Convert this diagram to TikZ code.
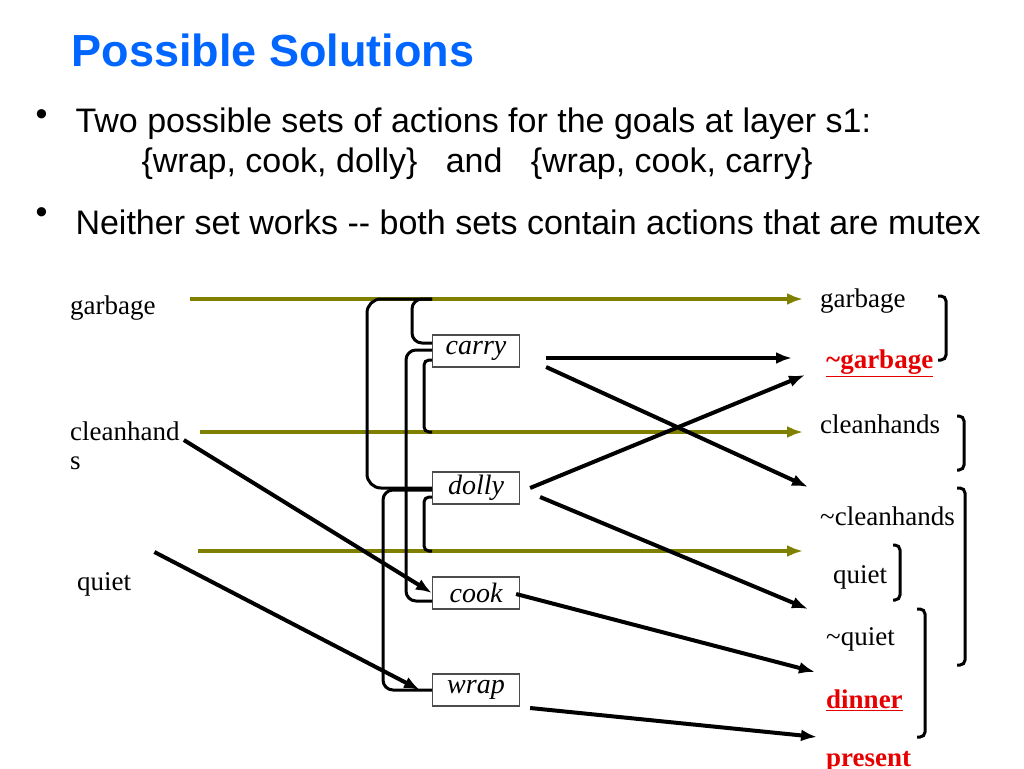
\documentclass[tikz,border=0pt]{standalone}
\usepackage{fontspec}
\setmainfont{Liberation Serif}
\newfontfamily\sansfont{Liberation Sans}
\usetikzlibrary{arrows.meta}
\usetikzlibrary{positioning}
\definecolor{titleblue}{RGB}{0,102,255}
\definecolor{lineolive}{RGB}{128,128,0}
\definecolor{goalred}{RGB}{230,0,0}
\begin{document}
\begin{tikzpicture}
      [x=1pt,y=-1pt,
       fact/.style={anchor=west,inner sep=0pt,font=\fontsize{27}{29}\selectfont},
       goal/.style={fact,text=goalred,font=\fontsize{27}{29}\selectfont\bfseries},
       act/.style={rectangle,draw=black!70,line width=1.2pt,minimum width=87pt,minimum height=32pt,inner sep=0pt,font=\fontsize{28}{30}\selectfont\itshape},
       bullet/.style={anchor=west,font=\sansfont\fontsize{34}{36}\selectfont},
       persist/.style={-{Latex[length=16pt,width=12pt]},line width=4.5pt,lineolive},
       effect/.style={-{Latex[length=16pt,width=12pt]},line width=4pt},
       mutex/.style={line width=3pt,rounded corners=14pt},
       pair/.style={line width=3pt,rounded corners=5pt}]
      \useasboundingbox (0,0) rectangle (1024,768);
      % title and bullets
      \node[anchor=west,text=titleblue,font=\sansfont\fontsize{45}{47}\selectfont\bfseries] (title) at (68,50) {Possible Solutions};
      \node[bullet] (dotA) at (32,118) {•};
      \node[bullet] (textA) at (72,124) {Two possible sets of actions for the goals at layer s1:};
      \node[bullet] (textB) at (138,164) {\{wrap, cook, dolly\}\ \ \ and\ \ \ \{wrap, cook, carry\}};
      \node[bullet] (dotB) at (32,216) {•};
      \node[bullet] (textC) at (72,222) {Neither set works -- both sets contain actions that are mutex};
      % layer s0
      \node[fact] (garbage0) at (70,308) {garbage};
      \node[fact,align=left] (clean0) at (70,446) {cleanhand\\s};
      \node[fact] (quiet0) at (77,584) {quiet};
      % actions
      \node[act] (carry) at (476,351) {carry};
      \node[act] (dolly) at (476,488) {dolly};
      \node[act] (cook) at (476,593) {cook};
      \node[act] (wrap) at (476,690) {wrap};
      % layer s1
      \node[fact] (garbage1) at (820,301) {garbage};
      \node[goal] (ngarbage1) at (826,363) {\underline{\textasciitilde garbage}};
      \node[fact] (clean1) at (820,424) {cleanhands};
      \node[fact] (nclean1) at (820,516) {\textasciitilde cleanhands};
      \node[fact] (quiet1) at (833,577) {quiet};
      \node[fact] (nquiet1) at (826,639) {\textasciitilde quiet};
      \node[goal] (dinner1) at (826,700) {\underline{dinner}};
      \node[goal] (present1) at (826,762) {present};
      % no-op lines
      \coordinate (g0) at (190,299);
      \coordinate (g1) at (803,299);
      \coordinate (c0) at (200,432);
      \coordinate (c1) at (803,432);
      \coordinate (q0) at (198,551);
      \coordinate (q1) at (803,551);
      \draw[persist] (g0) -- (g1);
      \draw[persist] (c0) -- (c1);
      \draw[persist] (q0) -- (q1);
      % add edges
      \draw[effect] (carry.east) ++(26,7) -- (792,358);
      \draw[effect] (carry.east) ++(26,16) -- (808,487);
      \draw[effect] (dolly.east) ++(10,0) -- (805,375);
      \draw[effect] (dolly.east) ++(20,9) -- (808,609);
      \draw[effect] (cook.east) ++(-4,1) -- (815,672);
      \draw[effect] (wrap.east) ++(10,18) -- (817,737);
      \draw[effect] (clean0.east) ++(4,-6) -- (cook.west);
      \draw[effect] (quiet0.east) ++(23,-32) -- (420,690);
      % mutex links
      \draw[mutex] (432,299) -- (367,299) -- (367,488) -- (dolly.west);
      \draw[mutex,rounded corners=10pt] (432,299) -- (412,299) -- (412,343) -- (432,343);
      \draw[mutex,rounded corners=10pt] (432,350) -- (406,350) -- (406,601) -- (432,601);
      \draw[mutex,rounded corners=5pt] (432,360) -- (424,360) -- (424,432) -- (432,432);
      \draw[mutex,rounded corners=10pt] (432,490) -- (383,490) -- (383,690) -- (wrap.west);
      \draw[mutex,rounded corners=5pt] (432,497) -- (424,497) -- (424,551) -- (432,551);
      % mutex pairs in s1
      \draw[pair] (938,296) -- (946,296) -- (946,360) -- (938,360);
      \draw[pair] (957,416) -- (964,416) -- (964,470) -- (957,470);
      \draw[pair] (957,488) -- (965,488) -- (965,665) -- (957,665);
      \draw[pair] (893,545) -- (900,545) -- (900,600) -- (893,600);
      \draw[pair] (917,609) -- (925,609) -- (925,737) -- (917,737);
\end{tikzpicture}
\end{document}
